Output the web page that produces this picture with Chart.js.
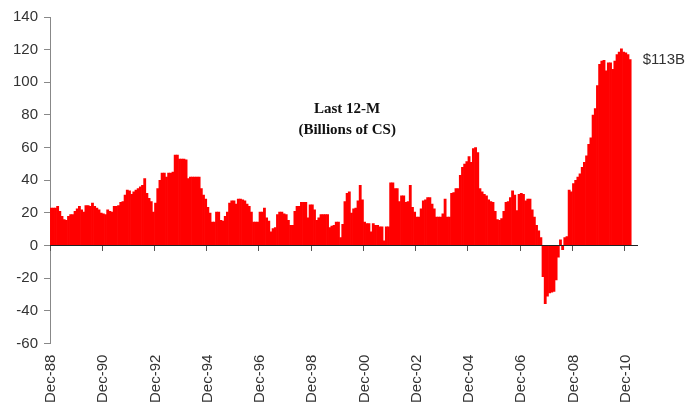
<!DOCTYPE html>
<html>
<head>
<meta charset="utf-8">
<script src="https://cdn.jsdelivr.net/npm/chart.js@4.4.1/dist/chart.umd.min.js"></script>
<style>
  html, body { margin: 0; padding: 0; background: #ffffff; }
  canvas { display: block; }
</style>
</head>
<body>
<canvas id="c" width="700" height="406"></canvas>
<script>
// ---- Data ----
const monthNames = ['Jan','Feb','Mar','Apr','May','Jun','Jul','Aug','Sep','Oct','Nov','Dec'];
const categoryCount = 270;           // Dec-88 .. May-11 on the category axis
const categories = [];
for (let k = 0; k < categoryCount; k++) {
  const m = (11 + k) % 12;
  const yy = (88 + Math.floor((11 + k) / 12)) % 100;
  categories.push(monthNames[m] + '-' + String(yy).padStart(2, '0'));
}
const labelEvery = 24;               // a tick label every two years

// Last 12-month flows, billions (monthly, Dec-88 .. Feb-11)
const last12M = [
  23,23,23,24,21,18,16,15.5,18,19,
  19,21,22.5,24,22,20.5,24.5,24.5,24,26,
  24,23,22,20,19.5,19,22,21,20.5,24,
  24,24.5,26.5,27,31,34,33.5,31.5,33,34,
  35,36,37,41,32,29,27,20.5,26,35,
  40,44.5,44.5,42,44.5,44.5,45,55.5,55.5,53,
  53,53,52.5,41,42,42,42,42,42,35,
  31,28.5,23.5,20,14.5,14.5,20.5,20.5,15.5,15,
  18,20.5,26,27.5,27.5,25.5,28.5,28.5,28,27.5,
  25.5,24,20.5,14.5,14.5,14.5,20.5,20.5,23,17,
  15,8.5,10.5,11,19,20.5,20.5,19.5,19,15.5,
  12.5,12.5,21,24,24,26.5,26.5,26.5,17,25,
  25,22,15.5,17,19,19,19,19,11,12,
  12.5,14.5,14.5,5,13,27,32,33,20,22.5,
  23,27.5,37,28,14.5,13.5,13.5,8.5,13.5,12.5,
  12.5,11.5,11.5,3,11.5,11.5,38.5,38.5,35,35,
  27,30.5,30.5,26.5,27,37,23.5,20.5,17.5,17.5,
  22.5,27.5,28,29.5,29.5,25.5,22.5,17.5,17.5,17.5,
  19.5,28.5,17.5,17.5,32,32.5,35,35,43,48,
  50,51.5,54.5,51,59.5,60,57,35,33,31.5,
  30.5,28,27,26.5,21,16,15.5,16.5,21,26.5,
  27,29.5,33.5,31,21.5,31.5,32,31.5,27.5,28.5,
  28.5,22,17.5,12.5,9,5,-19,-35.5,-31,-29,
  -28.5,-28,-21,-7,3.5,-2.5,5,5.5,34,33,
  38,40,42,44,48,51,55,62,66,80,
  84,98,111,113,113.5,107,112,112,108,113,
  117,118.5,120.5,118.5,118,117,114
];

const yMin = -60, yMax = 140, yStep = 20;
const endLabel = '$113B';
const titleLines = ['Last 12-M', '(Billions of CS)'];
const titleValues = [83.3, 70.5];    // vertical anchor (in y-axis units)
const titleCategory = 136;           // horizontal anchor (category index)

// ---- Chart ----
const tickFont = { family: '"Liberation Sans", Arial, sans-serif', size: 15 };

const innerTitle = {
  id: 'innerTitle',
  afterDraw(chart) {
    const { ctx, scales } = chart;
    ctx.save();
    ctx.font = 'bold 15px "Liberation Serif", "Times New Roman", serif';
    ctx.fillStyle = '#111111';
    ctx.textAlign = 'center';
    ctx.textBaseline = 'middle';
    const x = scales.x.getPixelForValue(titleCategory);
    titleLines.forEach((t, i) => ctx.fillText(t, x, scales.y.getPixelForValue(titleValues[i])));
    ctx.restore();
  }
};

new Chart(document.getElementById('c'), {
  type: 'bar',
  data: {
    labels: categories,
    datasets: [{
      data: last12M,
      backgroundColor: '#ff0000',
      borderWidth: 0,
      barPercentage: 1,
      categoryPercentage: 1,
      xAxisID: 'x',
      yAxisID: 'y'
    }]
  },
  options: {
    responsive: false,
    animation: false,
    layout: { padding: { left: 7, right: 10, top: 17, bottom: 3 } },
    plugins: { legend: { display: false }, tooltip: { enabled: false }, title: { display: false } },
    scales: {
      x: {
        type: 'category',
        position: 'bottom',
        offset: true,
        grid: { display: false, drawTicks: true, tickLength: 11 },
        border: { display: false },
        ticks: {
          autoSkip: false,
          maxRotation: 90,
          minRotation: 90,
          padding: 0,
          font: tickFont,
          color: '#333333',
          callback: function (value, index) {
            return index % labelEvery === 0 ? this.getLabelForValue(value) : '';
          }
        }
      },
      x2: {
        type: 'category',
        axis: 'x',
        position: { y: 0 },
        offset: true,
        grid: {
          offset: true,
          drawOnChartArea: false,
          drawTicks: true,
          tickLength: 5,
          z: 1,
          color: (c) => (c.index % labelEvery === 0 ? '#555555' : 'rgba(0,0,0,0)'),
          tickColor: (c) => (c.index % labelEvery === 0 ? '#555555' : 'rgba(0,0,0,0)')
        },
        border: { display: true, color: '#222222', width: 1, z: 1 },
        ticks: { display: false, autoSkip: false }
      },
      y: {
        position: 'left',
        min: yMin,
        max: yMax,
        grid: { drawOnChartArea: false, drawTicks: true, tickLength: 6, color: '#888888' },
        border: { display: true, color: '#888888', width: 1 },
        ticks: { stepSize: yStep, padding: 6, font: tickFont, color: '#333333' }
      },
      y2: {
        position: 'right',
        min: yMin,
        max: yMax,
        grid: { display: false, drawTicks: false },
        border: { display: false },
        afterBuildTicks(axis) { axis.ticks = [{ value: last12M[last12M.length - 1] }]; },
        ticks: { padding: 5, font: tickFont, color: '#333333', callback: () => endLabel }
      }
    }
  },
  plugins: [innerTitle]
});
</script>
</body>
</html>
